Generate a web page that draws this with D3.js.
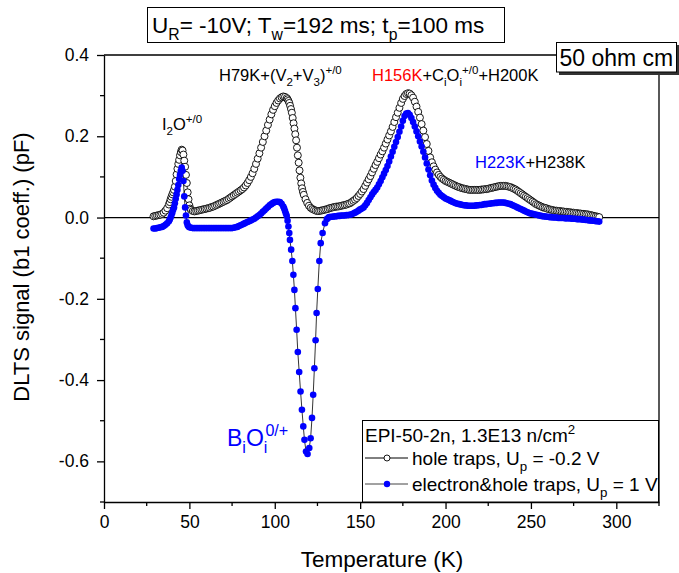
<!DOCTYPE html>
<html><head><meta charset="utf-8">
<script src="https://cdn.jsdelivr.net/npm/d3@7"></script>
<style>body{margin:0;background:#fff}svg{display:block}text{font-family:"Liberation Sans",Arial,sans-serif}</style>
</head><body><svg id="c" width="679" height="573"></svg>
<script>
// ---------- DATA ----------
const xTicks = [0, 50, 100, 150, 200, 250, 300];
const xMinor = [25, 75, 125, 175, 225, 275, 325];
const yTicks = [-0.6, -0.4, -0.2, 0.0, 0.2, 0.4];
const yMinor = [-0.7, -0.5, -0.3, -0.1, 0.1, 0.3];

// hole traps, Up = -0.2 V : [T (K), signal (pF)]
const holeTraps = [
[29,0.003],[30,0.004],[31,0.005],[32,0.006],[33,0.007],[34,0.009],[35,0.012],[36,0.017],[37,0.023],
[38,0.032],[38.5,0.038],[39,0.045],[39.5,0.051],[40,0.057],[40.5,0.062],[41,0.068],[41.5,0.076],[42,0.090],[42.5,0.106],
[43,0.120],[43.5,0.132],[44,0.142],[44.5,0.153],[45,0.161],[45.5,0.167],[46,0.165],[46.5,0.155],[47,0.140],[47.5,0.125],
[48,0.105],[48.5,0.085],[49,0.062],[49.5,0.045],[50,0.030],[50.5,0.022],[51,0.019],
[52,0.016],[53,0.015],[54,0.016],[55,0.017],[56,0.018],[57,0.019],[58,0.020],[59,0.021],[60,0.022],[61,0.023],
[62,0.024],[63,0.026],[64,0.027],[65,0.029],[66,0.031],[67,0.033],[68,0.035],[69,0.037],[70,0.039],[71,0.041],
[72,0.043],[73,0.046],[74,0.049],[75,0.052],[76,0.055],[77,0.058],[78,0.061],[79,0.064],[80,0.067],[81,0.070],
[82,0.074],[83,0.079],[84,0.085],[85,0.092],[86,0.100],[87,0.109],[88,0.120],[89,0.132],[90,0.145],[91,0.158],
[92,0.172],[93,0.186],[94,0.200],[95,0.214],[96,0.228],[97,0.241],[98,0.254],[99,0.265],[100,0.274],[101,0.282],
[102,0.288],[103,0.293],[104,0.296],[105,0.298],[106,0.297],[107,0.294],
[107.5,0.291],[108,0.287],[108.5,0.282],[109,0.275],[109.5,0.267],[110,0.258],[110.5,0.245],[111,0.232],[111.5,0.219],
[112,0.205],[112.5,0.190],[113,0.172],[113.5,0.153],[114,0.135],[114.5,0.116],[115,0.098],[115.5,0.084],[116,0.072],
[116.5,0.063],[117,0.056],
[118,0.045],[119,0.036],[120,0.029],[121,0.024],[122,0.021],[123,0.019],[124,0.017],[125,0.016],[126,0.016],[127,0.017],
[128,0.018],[129,0.019],[130,0.020],[131,0.021],[132,0.023],[133,0.024],[134,0.025],[135,0.026],[136,0.027],[137,0.027],
[138,0.028],[139,0.029],[140,0.030],[141,0.031],[142,0.032],[143,0.034],[144,0.035],[145,0.038],[146,0.041],[147,0.044],
[148,0.048],[149,0.053],[150,0.058],[151,0.064],[152,0.070],[153,0.078],[154,0.086],[155,0.094],[156,0.102],[157,0.111],
[158,0.120],[159,0.129],[160,0.137],[161,0.146],[162,0.155],[163,0.163],[164,0.172],[165,0.182],[166,0.192],[167,0.202],
[168,0.212],[169,0.223],[170,0.235],[171,0.247],[172,0.258],[173,0.270],[174,0.282],[175,0.292],[176,0.299],[177,0.304],
[178,0.306],[179,0.305],[180,0.301],[181,0.295],[182,0.285],[183,0.273],[184,0.260],[185,0.246],[186,0.230],[187,0.214],
[188,0.198],[189,0.181],[190,0.164],[191,0.148],[192,0.136],[193,0.126],[194,0.118],[195,0.111],[196,0.105],[197,0.100],
[198,0.096],[199,0.093],[200,0.090],[201,0.088],[202,0.086],[203,0.084],[204,0.082],[205,0.080],[206,0.078],[207,0.076],
[208,0.075],[209,0.073],[210,0.072],[211,0.071],[212,0.070],[213,0.069],[214,0.068],[215,0.068],[216,0.068],[217,0.068],
[218,0.068],[219,0.068],[220,0.068],[221,0.069],[222,0.069],[223,0.070],[224,0.070],[225,0.071],[226,0.072],[227,0.073],
[228,0.074],[229,0.075],[230,0.076],[231,0.077],[232,0.078],[233,0.078],[234,0.078],[235,0.078],[236,0.077],[237,0.076],
[238,0.075],[239,0.073],[240,0.071],[241,0.069],[242,0.066],[243,0.063],[244,0.060],[245,0.057],[246,0.054],[247,0.051],
[248,0.048],[249,0.045],[250,0.042],[251,0.039],[252,0.036],[253,0.033],[254,0.031],[255,0.029],[256,0.027],[257,0.025],
[258,0.024],[259,0.023],[260,0.021],[261,0.020],[262,0.019],[263,0.018],[264,0.017],[265,0.017],[266,0.016],[267,0.016],
[268,0.015],[269,0.015],[270,0.014],[271,0.014],[272,0.013],[273,0.013],[274,0.012],[275,0.012],[276,0.011],[277,0.011],
[278,0.010],[279,0.010],[280,0.009],[281,0.009],[282,0.008],[283,0.008],[284,0.007],[285,0.006],[286,0.005],[287,0.004],
[288,0.003],[289,0.002],[290,0.001]
];

// electron & hole traps, Up = 1 V : [T (K), signal (pF)]
const elecHoleTraps = [
[29,-0.027],[30,-0.027],[31,-0.026],[32,-0.025],[33,-0.024],[34,-0.023],[35,-0.021],[36,-0.018],[37,-0.014],[38,-0.009],
[38.5,-0.005],[39,0.000],[39.5,0.006],[40,0.012],[40.5,0.019],[41,0.025],[41.5,0.035],[42,0.046],[42.5,0.057],[43,0.068],
[43.5,0.080],[44,0.095],[44.5,0.105],[45,0.115],[45.5,0.123],[46,0.115],[46.5,0.090],[47,0.052],[47.5,0.025],[48,0.005],
[48.5,-0.012],[49,-0.019],[49.5,-0.022],[50,-0.024],[51,-0.025],[52,-0.026],[53,-0.026],[54,-0.026],[55,-0.026],[56,-0.026],
[57,-0.026],[58,-0.026],[59,-0.026],[60,-0.026],[61,-0.026],[62,-0.026],[63,-0.026],[64,-0.026],[65,-0.026],[66,-0.026],
[67,-0.026],[68,-0.026],[69,-0.026],[70,-0.026],[71,-0.026],[72,-0.026],[73,-0.026],[74,-0.026],[75,-0.026],[76,-0.025],
[77,-0.024],[78,-0.023],[79,-0.021],[80,-0.019],[81,-0.017],[82,-0.015],[83,-0.013],[84,-0.011],[85,-0.009],[86,-0.007],
[87,-0.005],[88,-0.003],[89,0.000],[90,0.003],[91,0.006],[92,0.010],[93,0.014],[94,0.018],[95,0.022],[96,0.026],
[97,0.030],[98,0.033],[99,0.036],[100,0.038],[101,0.039],[102,0.039],[103,0.038],[104,0.034],[105,0.027],[105.5,0.022],
[106,0.016],[106.5,0.010],[107,0.004],[107.5,-0.008],[108,-0.022],[108.5,-0.038],[108.9,-0.055],[109.6,-0.079],[110.3,-0.107],
[110.9,-0.141],[111.5,-0.178],[112.1,-0.223],[112.8,-0.276],[113.5,-0.331],[114.3,-0.380],[115.1,-0.428],[115.9,-0.473],
[116.7,-0.514],[117.4,-0.547],[118.3,-0.576],[119.2,-0.582],[120.2,-0.567],[121.0,-0.543],[121.8,-0.493],[122.5,-0.436],
[123.2,-0.371],[123.9,-0.302],[124.5,-0.235],[125.2,-0.176],[126.1,-0.107],[126.9,-0.063],[128.0,-0.038],[129.4,-0.014],
[130.5,-0.004],[131.5,0.000],[132,0.001],[133,0.002],[134,0.002],[135,0.003],[136,0.003],[137,0.004],[138,0.004],
[139,0.005],[140,0.005],[141,0.005],[142,0.006],[143,0.006],[144,0.007],[145,0.008],[146,0.010],[147,0.012],[148,0.014],
[149,0.017],[150,0.020],[151,0.022],[152,0.025],[153,0.030],[154,0.036],[155,0.043],[156,0.050],[157,0.057],[158,0.063],
[159,0.068],[160,0.074],[161,0.082],[162,0.090],[163,0.099],[164,0.108],[165,0.117],[166,0.127],[167,0.138],[168,0.150],
[169,0.162],[170,0.174],[171,0.186],[172,0.198],[173,0.211],[174,0.224],[175,0.238],[176,0.250],[177,0.256],[178,0.257],
[179,0.253],[180,0.245],[181,0.235],[182,0.224],[183,0.212],[184,0.200],[185,0.187],[186,0.175],[187,0.162],[188,0.148],
[189,0.133],[190,0.118],[191,0.104],[192,0.091],[193,0.081],[194,0.073],[195,0.066],[196,0.061],[197,0.056],[198,0.053],
[199,0.050],[200,0.047],[201,0.045],[202,0.043],[203,0.041],[204,0.039],[205,0.037],[206,0.035],[207,0.034],[208,0.033],
[209,0.032],[210,0.031],[211,0.030],[212,0.030],[213,0.029],[214,0.029],[215,0.029],[216,0.029],[217,0.029],[218,0.030],
[219,0.030],[220,0.031],[221,0.031],[222,0.032],[223,0.033],[224,0.033],[225,0.034],[226,0.034],[227,0.035],[228,0.035],
[229,0.036],[230,0.036],[231,0.037],[232,0.037],[233,0.037],[234,0.037],[235,0.036],[236,0.035],[237,0.034],[238,0.033],
[239,0.031],[240,0.029],[241,0.027],[242,0.025],[243,0.023],[244,0.021],[245,0.019],[246,0.017],[247,0.015],[248,0.013],
[249,0.011],[250,0.010],[251,0.009],[252,0.008],[253,0.007],[254,0.006],[255,0.005],[256,0.004],[257,0.003],[258,0.003],
[259,0.002],[260,0.002],[261,0.001],[262,0.001],[263,0.000],[264,0.000],[265,0.000],[266,-0.001],[267,-0.001],[268,-0.001],
[269,-0.001],[270,-0.002],[271,-0.002],[272,-0.002],[273,-0.002],[274,-0.003],[275,-0.003],[276,-0.003],[277,-0.004],
[278,-0.004],[279,-0.004],[280,-0.005],[281,-0.005],[282,-0.006],[283,-0.006],[284,-0.007],[285,-0.007],[286,-0.008],
[287,-0.008],[288,-0.009],[289,-0.009],[290,-0.010]
];

// ---------- CHART ----------
const svg = d3.select('#c');
const FONT = '"Liberation Sans", Arial, sans-serif';
const x = d3.scaleLinear().domain([0, 325]).range([104, 659]);
const y = d3.scaleLinear().domain([-0.7, 0.4]).range([502, 55]);

function rich(sel, parts, size) {
  let off = 0;
  parts.forEach(p => {
    const target = p.sub ? size * 0.32 : (p.sup ? -size * 0.42 : 0);
    const ts = sel.append('tspan').attr('dy', target - off)
      .attr('font-size', (p.sub || p.sup) ? size * 0.7 : size).text(p.t);
    if (p.c) ts.attr('fill', p.c);
    if (p.dx) ts.attr('dx', p.dx);
    off = target;
  });
  return sel;
}

// frame top & right
svg.append('path')
  .attr('d', `M${x(0)},${y(0.4)}H${x(325)}V${y(-0.7)}`)
  .attr('fill', 'none').attr('stroke', '#000').attr('stroke-width', 1.3);

// zero line
svg.append('line')
  .attr('x1', x(0)).attr('x2', x(325)).attr('y1', y(0)).attr('y2', y(0))
  .attr('stroke', '#000').attr('stroke-width', 1.3);

// axes
const gx = svg.append('g').attr('transform', `translate(0,${y(-0.7)})`)
  .call(d3.axisBottom(x).tickValues(xTicks).tickSize(7).tickSizeOuter(0).tickPadding(7).tickFormat(d => String(d)));
gx.selectAll('.minor').data(xMinor).enter().append('line').attr('class', 'minor')
  .attr('x1', d => x(d)).attr('x2', d => x(d)).attr('y1', 0).attr('y2', 4).attr('stroke', '#000').attr('stroke-width', 1.3);

const gy = svg.append('g').attr('transform', `translate(${x(0)},0)`)
  .call(d3.axisLeft(y).tickValues(yTicks).tickSize(7).tickSizeOuter(0).tickPadding(8).tickFormat(d => d.toFixed(1)));
gy.selectAll('.minor').data(yMinor).enter().append('line').attr('class', 'minor')
  .attr('y1', d => y(d)).attr('y2', d => y(d)).attr('x1', 0).attr('x2', -4).attr('stroke', '#000').attr('stroke-width', 1.3);

[gx, gy].forEach(g => {
  g.select('.domain').attr('stroke-width', 1.3);
  g.selectAll('.tick line').attr('stroke-width', 1.3);
  g.selectAll('.tick text').attr('font-size', 17.5).attr('font-family', FONT).attr('fill', '#000');
});

// axis titles
svg.append('text').attr('x', 382).attr('y', 567).attr('text-anchor', 'middle')
  .attr('font-size', 22.5).text('Temperature (K)');
svg.append('text').attr('transform', 'translate(29,267) rotate(-90)').attr('text-anchor', 'middle')
  .attr('font-size', 22).text('DLTS signal (b1 coeff.) (pF)');

// series
const line = d3.line().x(d => x(d[0])).y(d => y(d[1]));
svg.append('path').datum(holeTraps).attr('d', line).attr('fill', 'none').attr('stroke', '#000').attr('stroke-width', 0.8);
svg.append('g').selectAll('circle').data(holeTraps).enter().append('circle')
  .attr('cx', d => x(d[0])).attr('cy', d => y(d[1])).attr('r', 3.5)
  .attr('fill', '#fff').attr('stroke', '#000').attr('stroke-width', 0.9);

svg.append('path').datum(elecHoleTraps).attr('d', line).attr('fill', 'none').attr('stroke', '#000').attr('stroke-width', 0.8);
svg.append('g').selectAll('circle').data(elecHoleTraps).enter().append('circle')
  .attr('cx', d => x(d[0])).attr('cy', d => y(d[1])).attr('r', 3.3)
  .attr('fill', '#0000ff');

// annotations
rich(svg.append('text').attr('x', 162).attr('y', 130), [{t:'I'},{t:'2',sub:1},{t:'O'},{t:'+/0',sup:1}], 16.5);
rich(svg.append('text').attr('x', 219).attr('y', 81),
  [{t:'H79K+(V'},{t:'2',sub:1},{t:'+V'},{t:'3',sub:1},{t:')'},{t:'+/0',sup:1}], 16.5);
rich(svg.append('text').attr('x', 372).attr('y', 81),
  [{t:'H156K',c:'#ff0000'},{t:'+C'},{t:'i',sub:1},{t:'O'},{t:'i',sub:1},{t:'+/0',sup:1},{t:'+H200K'}], 16.5);
rich(svg.append('text').attr('x', 475).attr('y', 168),
  [{t:'H223K',c:'#0000ff'},{t:'+H238K'}], 16.5);
rich(svg.append('text').attr('x', 227).attr('y', 446).attr('fill', '#0000ff'),
  [{t:'B'},{t:'i',sub:1},{t:'O'},{t:'i',sub:1},{t:'0/+',sup:1,dx:-2}], 23);

// title box
svg.append('rect').attr('x', 147.5).attr('y', 7.5).attr('width', 357).attr('height', 35)
  .attr('fill', '#fff').attr('stroke', '#000').attr('stroke-width', 1);
rich(svg.append('text').attr('x', 152).attr('y', 33),
  [{t:'U'},{t:'R',sub:1},{t:'= -10V; T'},{t:'w',sub:1},{t:'=192 ms; t'},{t:'p',sub:1},{t:'=100 ms'}], 22.5);

// resistivity box with shadow
svg.append('rect').attr('x', 559).attr('y', 45).attr('width', 121).attr('height', 30).attr('fill', '#333');
svg.append('rect').attr('x', 556.5).attr('y', 42.5).attr('width', 120).attr('height', 29.5)
  .attr('fill', '#fff').attr('stroke', '#000').attr('stroke-width', 1);
svg.append('text').attr('x', 559.5).attr('y', 66).attr('font-size', 23).text('50 ohm cm');

// legend
const lg = svg.append('g');
lg.append('rect').attr('x', 362.5).attr('y', 420.5).attr('width', 296).attr('height', 81.5)
  .attr('fill', '#fff').attr('stroke', '#000').attr('stroke-width', 1);
rich(lg.append('text').attr('x', 365).attr('y', 442), [{t:'EPI-50-2n, 1.3E13 n/cm'},{t:'2',sup:1}], 19);
lg.append('line').attr('x1', 365).attr('x2', 408).attr('y1', 458).attr('y2', 458).attr('stroke', '#000').attr('stroke-width', 1);
lg.append('circle').attr('cx', 387).attr('cy', 458).attr('r', 3).attr('fill', '#fff').attr('stroke', '#000').attr('stroke-width', 0.9);
rich(lg.append('text').attr('x', 412).attr('y', 465), [{t:'hole traps, U'},{t:'p',sub:1},{t:' = -0.2 V'}], 19);
lg.append('line').attr('x1', 365).attr('x2', 408).attr('y1', 484).attr('y2', 484).attr('stroke', '#444').attr('stroke-width', 1);
lg.append('circle').attr('cx', 387).attr('cy', 484).attr('r', 3.2).attr('fill', '#0000ff');
rich(lg.append('text').attr('x', 412).attr('y', 491), [{t:'electron&hole traps, U'},{t:'p',sub:1},{t:' = 1 V'}], 19);
</script></body></html>
